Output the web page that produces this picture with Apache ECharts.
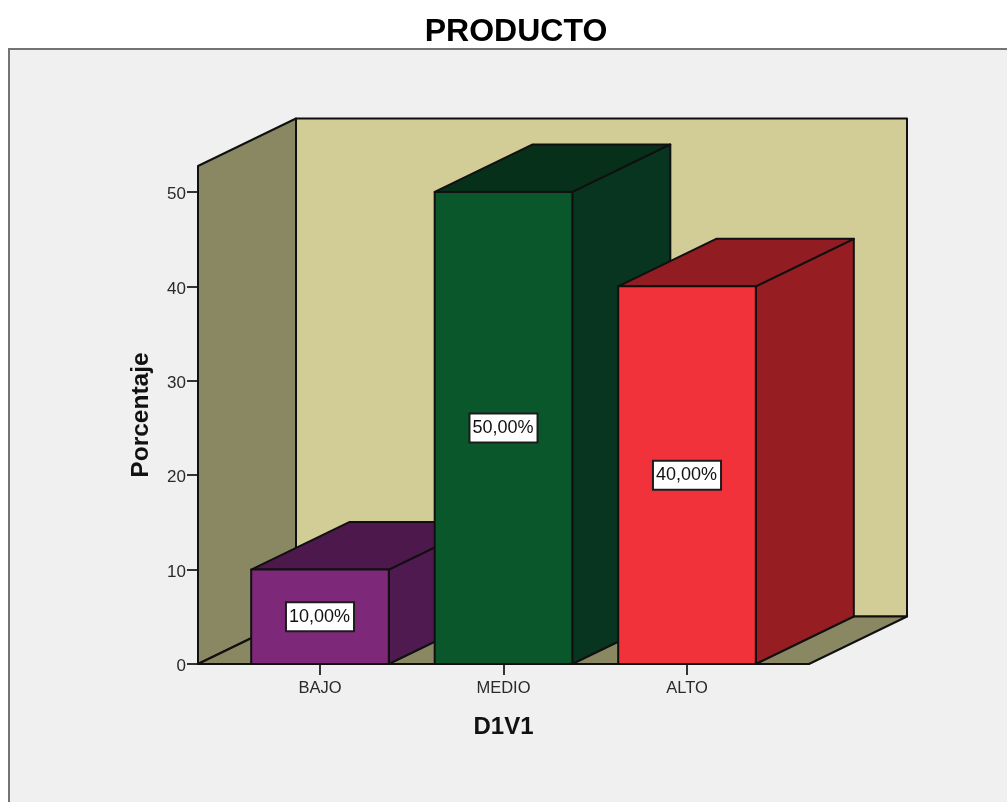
<!DOCTYPE html>
<html>
<head>
<meta charset="utf-8">
<title>PRODUCTO</title>
<style>
  html, body { margin: 0; padding: 0; background: #ffffff; }
  #chart { width: 1007px; height: 802px; }
</style>
<script src="https://cdn.jsdelivr.net/npm/echarts@6/dist/echarts.min.js"></script>
</head>
<body>
<div id="chart"></div>
<script>
// Percentage of responses per level of D1V1
const categories = ['BAJO', 'MEDIO', 'ALTO'];
const percentages = [10, 50, 40];
const yTicks = [0, 10, 20, 30, 40, 50];
const yTop = 52.75;

const faceColors = ['#7d2878', '#0a572c', '#f2323a'];
const sideColors = ['#4f1a4f', '#07351f', '#961e22'];
const topColors = ['#4d184b', '#063019', '#911c22'];

const FONT = '"Liberation Sans", Arial, sans-serif';
const EDGE = '#101010';
const DEPTH_X = 98;
const DEPTH_Y = -47.5;
const ROOM_INSET = 30.25;
const BAR_RATIO = 0.75;

function face(points, fill) {
  return {
    type: 'polygon',
    shape: { points: points },
    style: { fill: fill, stroke: EDGE, lineWidth: 2, lineJoin: 'round' }
  };
}

// Back wall, side wall and floor of the 3D box behind the bars
function renderRoom(params, api) {
  const band = api.size([1, 0])[0];
  const x0 = api.coord([0, 0])[0] - band / 2 - ROOM_INSET;
  const x1 = api.coord([categories.length - 1, 0])[0] + band / 2 + ROOM_INSET;
  const yBase = api.coord([0, 0])[1];
  const yTopPx = api.coord([0, yTop])[1];
  return {
    type: 'group',
    children: [
      face([[x0 + DEPTH_X, yTopPx + DEPTH_Y], [x1 + DEPTH_X, yTopPx + DEPTH_Y],
            [x1 + DEPTH_X, yBase + DEPTH_Y], [x0 + DEPTH_X, yBase + DEPTH_Y]], '#d2cd96'),
      face([[x0, yTopPx], [x0 + DEPTH_X, yTopPx + DEPTH_Y],
            [x0 + DEPTH_X, yBase + DEPTH_Y], [x0, yBase]], '#8a8763'),
      face([[x0, yBase], [x0 + DEPTH_X, yBase + DEPTH_Y],
            [x1 + DEPTH_X, yBase + DEPTH_Y], [x1, yBase]], '#8a8763')
    ]
  };
}

// One extruded bar with its value label on the front face
function renderBar(params, api) {
  const i = api.value(0);
  const value = api.value(1);
  const half = api.size([1, 0])[0] * BAR_RATIO / 2;
  const top = api.coord([i, value]);
  const base = api.coord([i, 0]);
  const l = top[0] - half, r = top[0] + half;
  const t = top[1], b = base[1];
  return {
    type: 'group',
    children: [
      face([[r, t], [r + DEPTH_X, t + DEPTH_Y], [r + DEPTH_X, b + DEPTH_Y], [r, b]], sideColors[i]),
      face([[l, t], [l + DEPTH_X, t + DEPTH_Y], [r + DEPTH_X, t + DEPTH_Y], [r, t]], topColors[i]),
      face([[l, t], [r, t], [r, b], [l, b]], faceColors[i]),
      {
        type: 'text',
        x: top[0],
        y: (t + b) / 2,
        style: {
          text: value.toFixed(2).replace('.', ',') + '%',
          font: '18px ' + FONT,
          fill: '#111111',
          align: 'center',
          verticalAlign: 'middle',
          backgroundColor: '#ffffff',
          borderColor: '#1c1c1c',
          borderWidth: 2,
          padding: [6, 3, 3, 2]
        }
      }
    ]
  };
}

const chart = echarts.init(document.getElementById('chart'), null, { renderer: 'canvas' });
chart.setOption({
  animation: false,
  backgroundColor: '#ffffff',
  title: {
    text: 'PRODUCTO',
    left: 511,
    top: 11,
    textAlign: 'center',
    textStyle: { fontFamily: FONT, fontSize: 32, fontWeight: 'bold', color: '#000000' }
  },
  graphic: [{
    type: 'rect',
    z: -10,
    shape: { x: 9, y: 49, width: 1020, height: 780 },
    style: { fill: '#f0f0f0', stroke: '#747474', lineWidth: 2 }
  }],
  grid: { left: 228.25, top: 166, width: 550.5, height: 498 },
  xAxis: {
    type: 'category',
    data: categories,
    name: 'D1V1',
    nameLocation: 'middle',
    nameGap: 51,
    nameTextStyle: { fontFamily: FONT, fontSize: 24, fontWeight: 'bold', color: '#111111' },
    axisLine: { show: false },
    axisTick: { show: true, alignWithLabel: true, length: 11, lineStyle: { color: '#333333', width: 2 } },
    axisLabel: { fontFamily: FONT, fontSize: 16.5, color: '#2a2a2a', margin: 16 }
  },
  yAxis: {
    type: 'value',
    min: 0,
    max: yTop,
    offset: ROOM_INSET,
    name: 'Porcentaje',
    nameLocation: 'middle',
    nameGap: 44.5,
    nameTextStyle: { fontFamily: FONT, fontSize: 24.5, fontWeight: 'bold', color: '#111111' },
    splitLine: { show: false },
    axisLine: { show: false },
    axisTick: { show: true, length: 11, customValues: yTicks, lineStyle: { color: '#333333', width: 2 } },
    axisLabel: {
      fontFamily: FONT,
      fontSize: 17,
      color: '#2a2a2a',
      margin: 12,
      verticalAlign: 'top',
      lineHeight: 5,
      customValues: yTicks
    }
  },
  series: [
    {
      type: 'custom',
      clip: false,
      silent: true,
      z: 1,
      data: [[0, yTop]],
      encode: { x: 0, y: 1 },
      renderItem: renderRoom
    },
    {
      type: 'custom',
      clip: false,
      z: 2,
      data: percentages.map((v, i) => [i, v]),
      encode: { x: 0, y: 1 },
      renderItem: renderBar
    }
  ]
});
</script>
</body>
</html>
